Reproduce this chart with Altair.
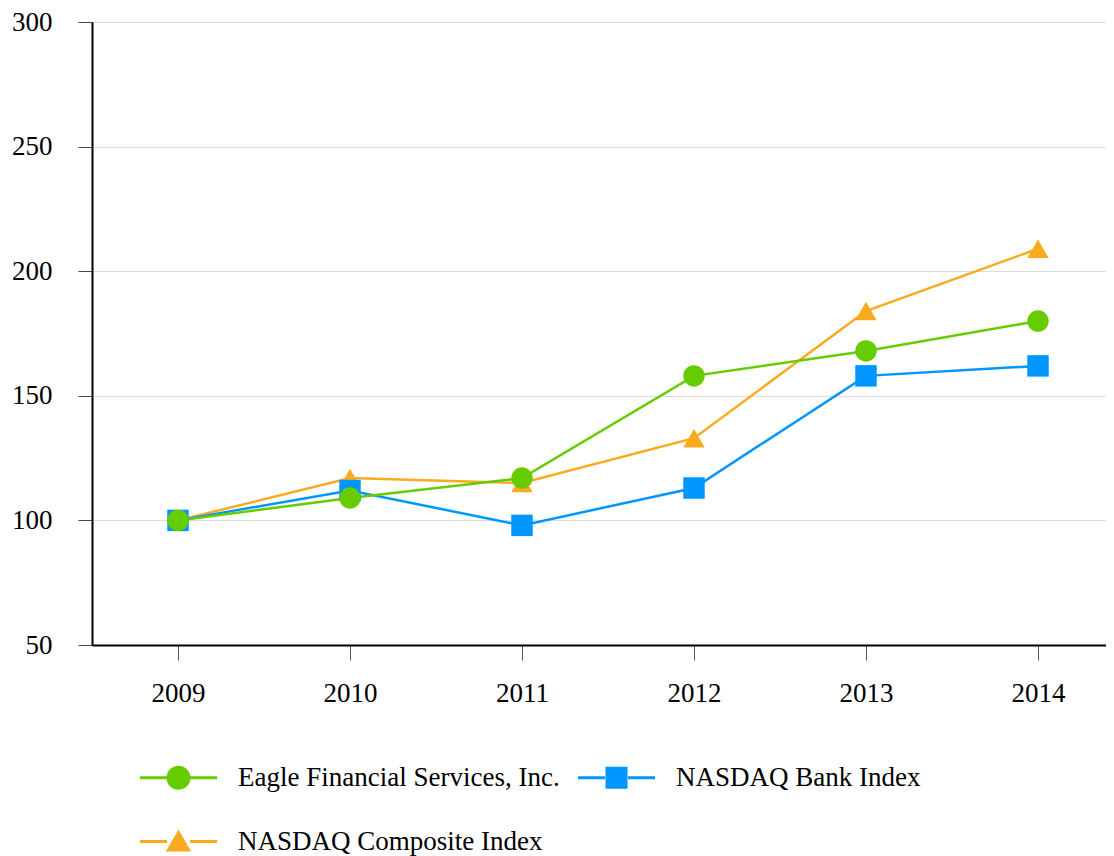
import altair as alt
import pandas as pd

years = [2009, 2010, 2011, 2012, 2013, 2014]
series_names = ["Eagle Financial Services, Inc.", "NASDAQ Bank Index", "NASDAQ Composite Index"]
eagle = [100, 109, 117, 158, 168, 180]
bank = [100, 112, 98, 113, 158, 162]
composite = [100, 117, 115, 133, 184, 209]
colors = ["#66CC00", "#0096FF", "#F9AA1F"]
y_ticks = [50, 100, 150, 200, 250, 300]

rows = []
for name, vals in [(series_names[2], composite), (series_names[1], bank), (series_names[0], eagle)]:
    for yr, v in zip(years, vals):
        rows.append({"year": yr, "value": v, "series": name})
df = pd.DataFrame(rows)

W = 1014
H = 623
step = 172.0
x_dom = [2008.5, 2008.5 + W / step]

# legend symbols: line + marker (unit box = symbol size)
line_part = "M-1,-0.036 L-0.3,-0.036 L-0.3,0.036 L-1,0.036 Z M0.3,-0.036 L1,-0.036 L1,0.036 L0.3,0.036 Z "
leg_shapes = [
    line_part + "M0.312,0 A0.312,0.312 0 1,1 -0.312,0 A0.312,0.312 0 1,1 0.312,0 Z",
    line_part + "M-0.286,-0.286 L0.286,-0.286 L0.286,0.286 L-0.286,0.286 Z",
    line_part + "M0,-0.31 L0.33,0.26 L-0.33,0.26 Z",
]
pt_shapes = ["circle", "square", "triangle-up"]

FS = 27
xenc = alt.X("year:Q", scale=alt.Scale(domain=x_dom, nice=False, zero=False),
             axis=alt.Axis(values=years, format="d", grid=False, title=None,
                           domainColor="black", domainWidth=2, tickColor="#555",
                           tickSize=15, labelPadding=20, labelFont="Liberation Serif",
                           labelFontSize=FS, labelColor="black"))
yenc = alt.Y("value:Q", scale=alt.Scale(domain=[50, 300], nice=False, zero=False),
             axis=alt.Axis(values=y_ticks, grid=True, gridColor="#dddddd", title=None,
                           domainColor="black", domainWidth=2, tickColor="#444",
                           tickSize=14, labelPadding=26, labelFont="Liberation Serif",
                           labelFontSize=FS, labelColor="black"))
cscale = alt.Scale(domain=series_names, range=colors)

lines = alt.Chart(df).mark_line(strokeWidth=2.5).encode(
    x=xenc, y=yenc,
    color=alt.Color("series:N", scale=cscale, legend=None),
    detail="series:N",
)
points = alt.Chart(df).mark_point(filled=True, size=460, opacity=1).encode(
    x=xenc, y=yenc,
    color=alt.Color("series:N", scale=cscale, legend=None),
    shape=alt.Shape("series:N", scale=alt.Scale(domain=series_names, range=pt_shapes), legend=None),
)
leg = alt.Legend(title=None, orient="none", legendX=48, legendY=717, direction="horizontal",
                 columns=2, symbolSize=5929, symbolStrokeWidth=0, symbolOpacity=1,
                 labelFont="Liberation Serif", labelFontSize=FS, labelColor="black",
                 labelOffset=21, columnPadding=18, rowPadding=12, labelLimit=0, padding=0)
legend_layer = alt.Chart(df).mark_point(filled=True, size=10, opacity=0).encode(
    x=xenc, y=yenc,
    color=alt.Color("series:N", scale=cscale, legend=leg),
    shape=alt.Shape("series:N", scale=alt.Scale(domain=series_names, range=leg_shapes), legend=leg),
)

chart = alt.layer(lines, points, legend_layer).resolve_scale(
    shape="independent", color="independent"
).properties(
    width=W, height=H,
    autosize=alt.AutoSizeParams(type="none"),
    padding={"left": 84, "top": 14, "right": 0, "bottom": 211},
).configure_view(stroke=None).configure(background="white")

chart.save("out.html", embed_options={"renderer": "svg", "actions": False})
